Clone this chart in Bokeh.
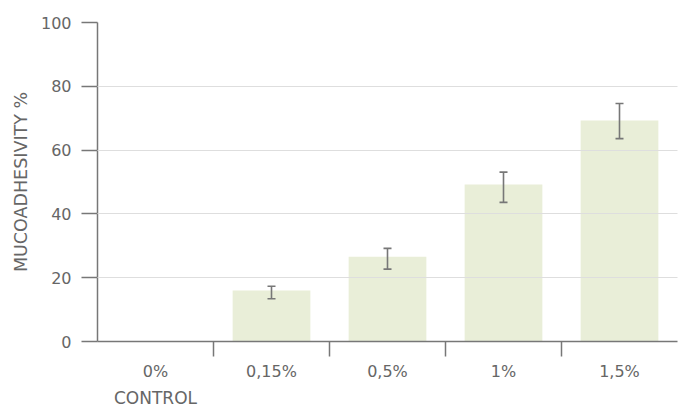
from bokeh.plotting import figure
from bokeh.models import (FactorRange, Range1d, LinearAxis, FixedTicker,
                          ColumnDataSource, Whisker, TeeHead)
from bokeh.embed import file_html
from bokeh.resources import INLINE

categories = ["0%", "0,15%", "0,5%", "1%", "1,5%"]
sub_labels = ["CONTROL", "", "", "", ""]
mucoadhesivity = [0.0, 16.0, 26.6, 49.2, 69.3]
err_lower = [None, 13.4, 22.7, 43.6, 63.6]
err_upper = [None, 17.3, 29.2, 53.1, 74.6]
y_ticks = [0, 20, 40, 60, 80, 100]
y_title = "MUCOADHESIVITY %"

FONT = "DejaVu Sans"
TEXT = "#666666"
AXIS = "#777777"
BAR = "#e9eed8"
GRID = "#dedede"

p = figure(width=685, height=410, x_range=FactorRange(*categories), y_range=Range1d(0, 100),
           x_axis_location=None, output_backend="svg", toolbar_location=None,
           min_border_top=22, min_border_right=8, min_border_left=97, min_border_bottom=69)
p.outline_line_color = None
p.background_fill_color = "white"
p.xgrid.visible = False
p.ygrid.ticker = FixedTicker(ticks=y_ticks)
p.ygrid.grid_line_color = GRID
p.ygrid.grid_line_width = 1
p.ygrid.level = "guide"

src = ColumnDataSource(dict(cat=categories, val=mucoadhesivity))
p.vbar(x="cat", top="val", width=0.67, source=src, fill_color=BAR, line_color=None)

idx = [i for i, v in enumerate(err_lower) if v is not None]
wsrc = ColumnDataSource(dict(cat=[categories[i] for i in idx],
                             lo=[err_lower[i] for i in idx],
                             hi=[err_upper[i] for i in idx]))
wh = Whisker(base="cat", lower="lo", upper="hi", source=wsrc,
             line_color=AXIS, line_width=1.6,
             upper_head=TeeHead(size=8, line_color=AXIS, line_width=1.6),
             lower_head=TeeHead(size=8, line_color=AXIS, line_width=1.6))
wh.level = "annotation"
p.add_layout(wh)

# y axis
ya = p.yaxis[0]
ya.ticker = FixedTicker(ticks=y_ticks)
ya.axis_line_color = AXIS
ya.axis_line_width = 1.5
ya.major_tick_line_color = AXIS
ya.major_tick_line_width = 1.5
ya.major_tick_out = 16
ya.major_tick_in = 0
ya.minor_tick_line_color = None
ya.major_label_standoff = 10
ya.major_label_text_font = FONT
ya.major_label_text_font_size = "16px"
ya.major_label_text_color = TEXT
ya.axis_label = y_title
ya.axis_label_standoff = 7
ya.axis_label_text_font = FONT
ya.axis_label_text_font_size = "17.5px"
ya.axis_label_text_font_style = "normal"
ya.axis_label_text_color = TEXT

# x axis: labels at category centres, ticks at category boundaries
# (numeric synthetic coordinates of the factor range)
n = len(categories)
centers = [i + 0.5 for i in range(n)]
bounds = [i for i in range(1, n)]

xa = LinearAxis(ticker=FixedTicker(ticks=centers, minor_ticks=bounds),
                major_label_overrides={c: lab for c, lab in zip(centers, categories)},
                axis_line_color=AXIS, axis_line_width=1.5,
                major_tick_in=0, major_tick_out=0, major_tick_line_color=None,
                minor_tick_in=0, minor_tick_out=15,
                minor_tick_line_color=AXIS, minor_tick_line_width=1.5,
                major_label_standoff=5,
                major_label_text_font=FONT, major_label_text_font_size="16px",
                major_label_text_color=TEXT)
p.add_layout(xa, "below")

sub_c = [c for c, s in zip(centers, sub_labels) if s]
xa2 = LinearAxis(ticker=FixedTicker(ticks=sub_c, minor_ticks=[]),
                 major_label_overrides={c: s for c, s in zip(centers, sub_labels) if s},
                 axis_line_color=None, major_tick_line_color=None, minor_tick_line_color=None,
                 major_tick_in=0, major_tick_out=0, minor_tick_in=0, minor_tick_out=0,
                 major_label_standoff=4,
                 major_label_text_font=FONT, major_label_text_font_size="17px",
                 major_label_text_color=TEXT)
p.add_layout(xa2, "below")

open("out.html", "w").write(file_html(p, INLINE))
